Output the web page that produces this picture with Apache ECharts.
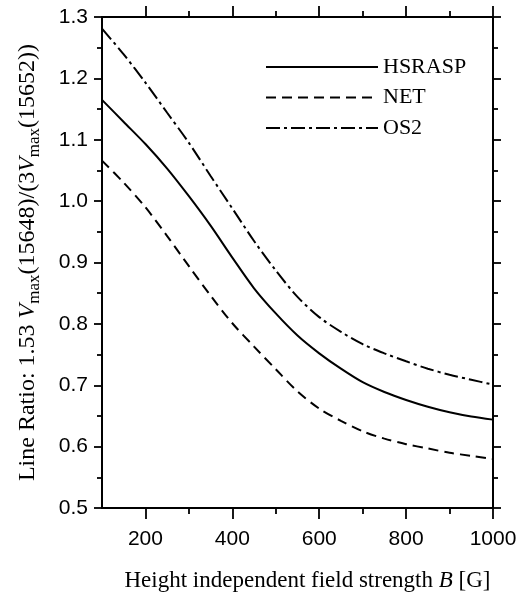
<!DOCTYPE html>
<html>
<head>
<meta charset="utf-8">
<script src="https://cdn.jsdelivr.net/npm/echarts@6/dist/echarts.min.js"></script>
<style>html,body{margin:0;padding:0;background:#fff;}#c{width:525px;height:597px;}</style>
</head>
<body>
<div id="c"></div>
<script>
const fieldB = [100,150,200,250,300,350,400,450,500,550,600,650,700,750,800,850,900,950,1000];
const hsrasp = [1.165,1.129,1.093,1.053,1.008,0.960,0.908,0.858,0.817,0.781,0.752,0.727,0.705,0.689,0.676,0.665,0.656,0.649,0.644];
const net    = [1.066,1.030,0.990,0.943,0.894,0.846,0.801,0.763,0.726,0.690,0.662,0.642,0.625,0.613,0.604,0.597,0.590,0.585,0.580];
const os2    = [1.281,1.239,1.193,1.144,1.095,1.041,0.988,0.935,0.887,0.844,0.811,0.787,0.767,0.752,0.739,0.727,0.717,0.709,0.701];
const xMajor = [200,400,600,800,1000];
const xMinor = [300,500,700,900];
const seriesNames = ['HSRASP','NET','OS2'];

const pair = (ys) => fieldB.map((x,i)=>[x,ys[i]]);
const sans = 'Liberation Sans';
const serif = 'Liberation Serif';
const axisLine = {show:true, lineStyle:{color:'#000', width:2}};

function xAxisDef(pos, ticks, len, labels){
  return {
    type:'value', position:pos, min:100, max:1000, offset:0,
    axisLine: axisLine,
    axisTick:{show:true, inside:false, length:len, customValues:ticks, lineStyle:{color:'#000', width:1.8}},
    axisLabel:{show:labels, customValues:ticks, fontFamily:sans, fontSize:21, color:'#000', margin:21, formatter:(v)=>String(v)},
    splitLine:{show:false}
  };
}

const chart = echarts.init(document.getElementById('c'), null, {renderer:'canvas'});
chart.setOption({
  backgroundColor:'#fff',
  animation:false,
  grid:{left:102, right:32, top:17, bottom:89, containLabel:false},
  legend:{
    orient:'vertical', left:265, top:56, padding:0, itemWidth:112, itemHeight:20, itemGap:8.5,
    data:seriesNames,
    itemStyle:{opacity:0},
    textStyle:{fontFamily:serif, fontSize:22, color:'#000'}
  },
  xAxis:[
    Object.assign(xAxisDef('bottom', xMajor, 11, true), {
      name:'{r|Height independent field strength }{i|B}{r| [G]}',
      nameLocation:'middle', nameGap:61,
      nameTextStyle:{padding:[0,0,0,20], rich:{
        r:{fontFamily:serif, fontSize:23, color:'#000'},
        i:{fontFamily:serif, fontSize:23, fontStyle:'italic', color:'#000'}
      }}
    }),
    xAxisDef('bottom', xMinor, 6, false),
    xAxisDef('top', xMajor, 11, false),
    xAxisDef('top', xMinor, 6, false)
  ],
  yAxis:[
    {
      type:'value', position:'left', min:0.5, max:1.3, interval:0.1,
      axisLine: axisLine,
      axisTick:{show:true, length:8, lineStyle:{color:'#000', width:1.8}},
      minorTick:{show:true, splitNumber:2, length:5, lineStyle:{color:'#000', width:1.8}},
      axisLabel:{fontFamily:sans, fontSize:21, color:'#000', margin:14, formatter:(v)=>v.toFixed(1)},
      splitLine:{show:false}, minorSplitLine:{show:false},
      name:'{a|Line Ratio: 1.53 }{i|V}{s|max}{a|(15648)/(3}{i|V}{s|max}{a|(15652))}',
      nameLocation:'middle', nameRotate:90, nameGap:59,
      nameTextStyle:{rich:{
        a:{fontFamily:serif, fontSize:24, color:'#000', lineHeight:31, verticalAlign:'middle'},
        i:{fontFamily:serif, fontSize:24, fontStyle:'italic', color:'#000', lineHeight:31, verticalAlign:'middle'},
        s:{fontFamily:serif, fontSize:17, color:'#000', lineHeight:16, verticalAlign:'bottom'}
      }}
    },
    {
      type:'value', position:'right', min:0.5, max:1.3, interval:0.1,
      axisLine: axisLine,
      axisTick:{show:true, length:8, lineStyle:{color:'#000', width:1.8}},
      minorTick:{show:true, splitNumber:2, length:5, lineStyle:{color:'#000', width:1.8}},
      axisLabel:{show:false},
      splitLine:{show:false}, minorSplitLine:{show:false}
    }
  ],
  series:[
    {name:'HSRASP', type:'line', xAxisIndex:0, yAxisIndex:0, data:pair(hsrasp), smooth:0.3, symbol:'none', showSymbol:false,
     lineStyle:{color:'#000', width:2, type:'solid'}, itemStyle:{color:'#000'}},
    {name:'NET', type:'line', xAxisIndex:0, yAxisIndex:0, data:pair(net), smooth:0.3, symbol:'none', showSymbol:false,
     lineStyle:{color:'#000', width:2, type:[10,6]}, itemStyle:{color:'#000'}},
    {name:'OS2', type:'line', xAxisIndex:0, yAxisIndex:0, data:pair(os2), smooth:0.3, symbol:'none', showSymbol:false,
     lineStyle:{color:'#000', width:2, type:[14,4,3,4]}, itemStyle:{color:'#000'}}
  ]
});
</script>
</body>
</html>
